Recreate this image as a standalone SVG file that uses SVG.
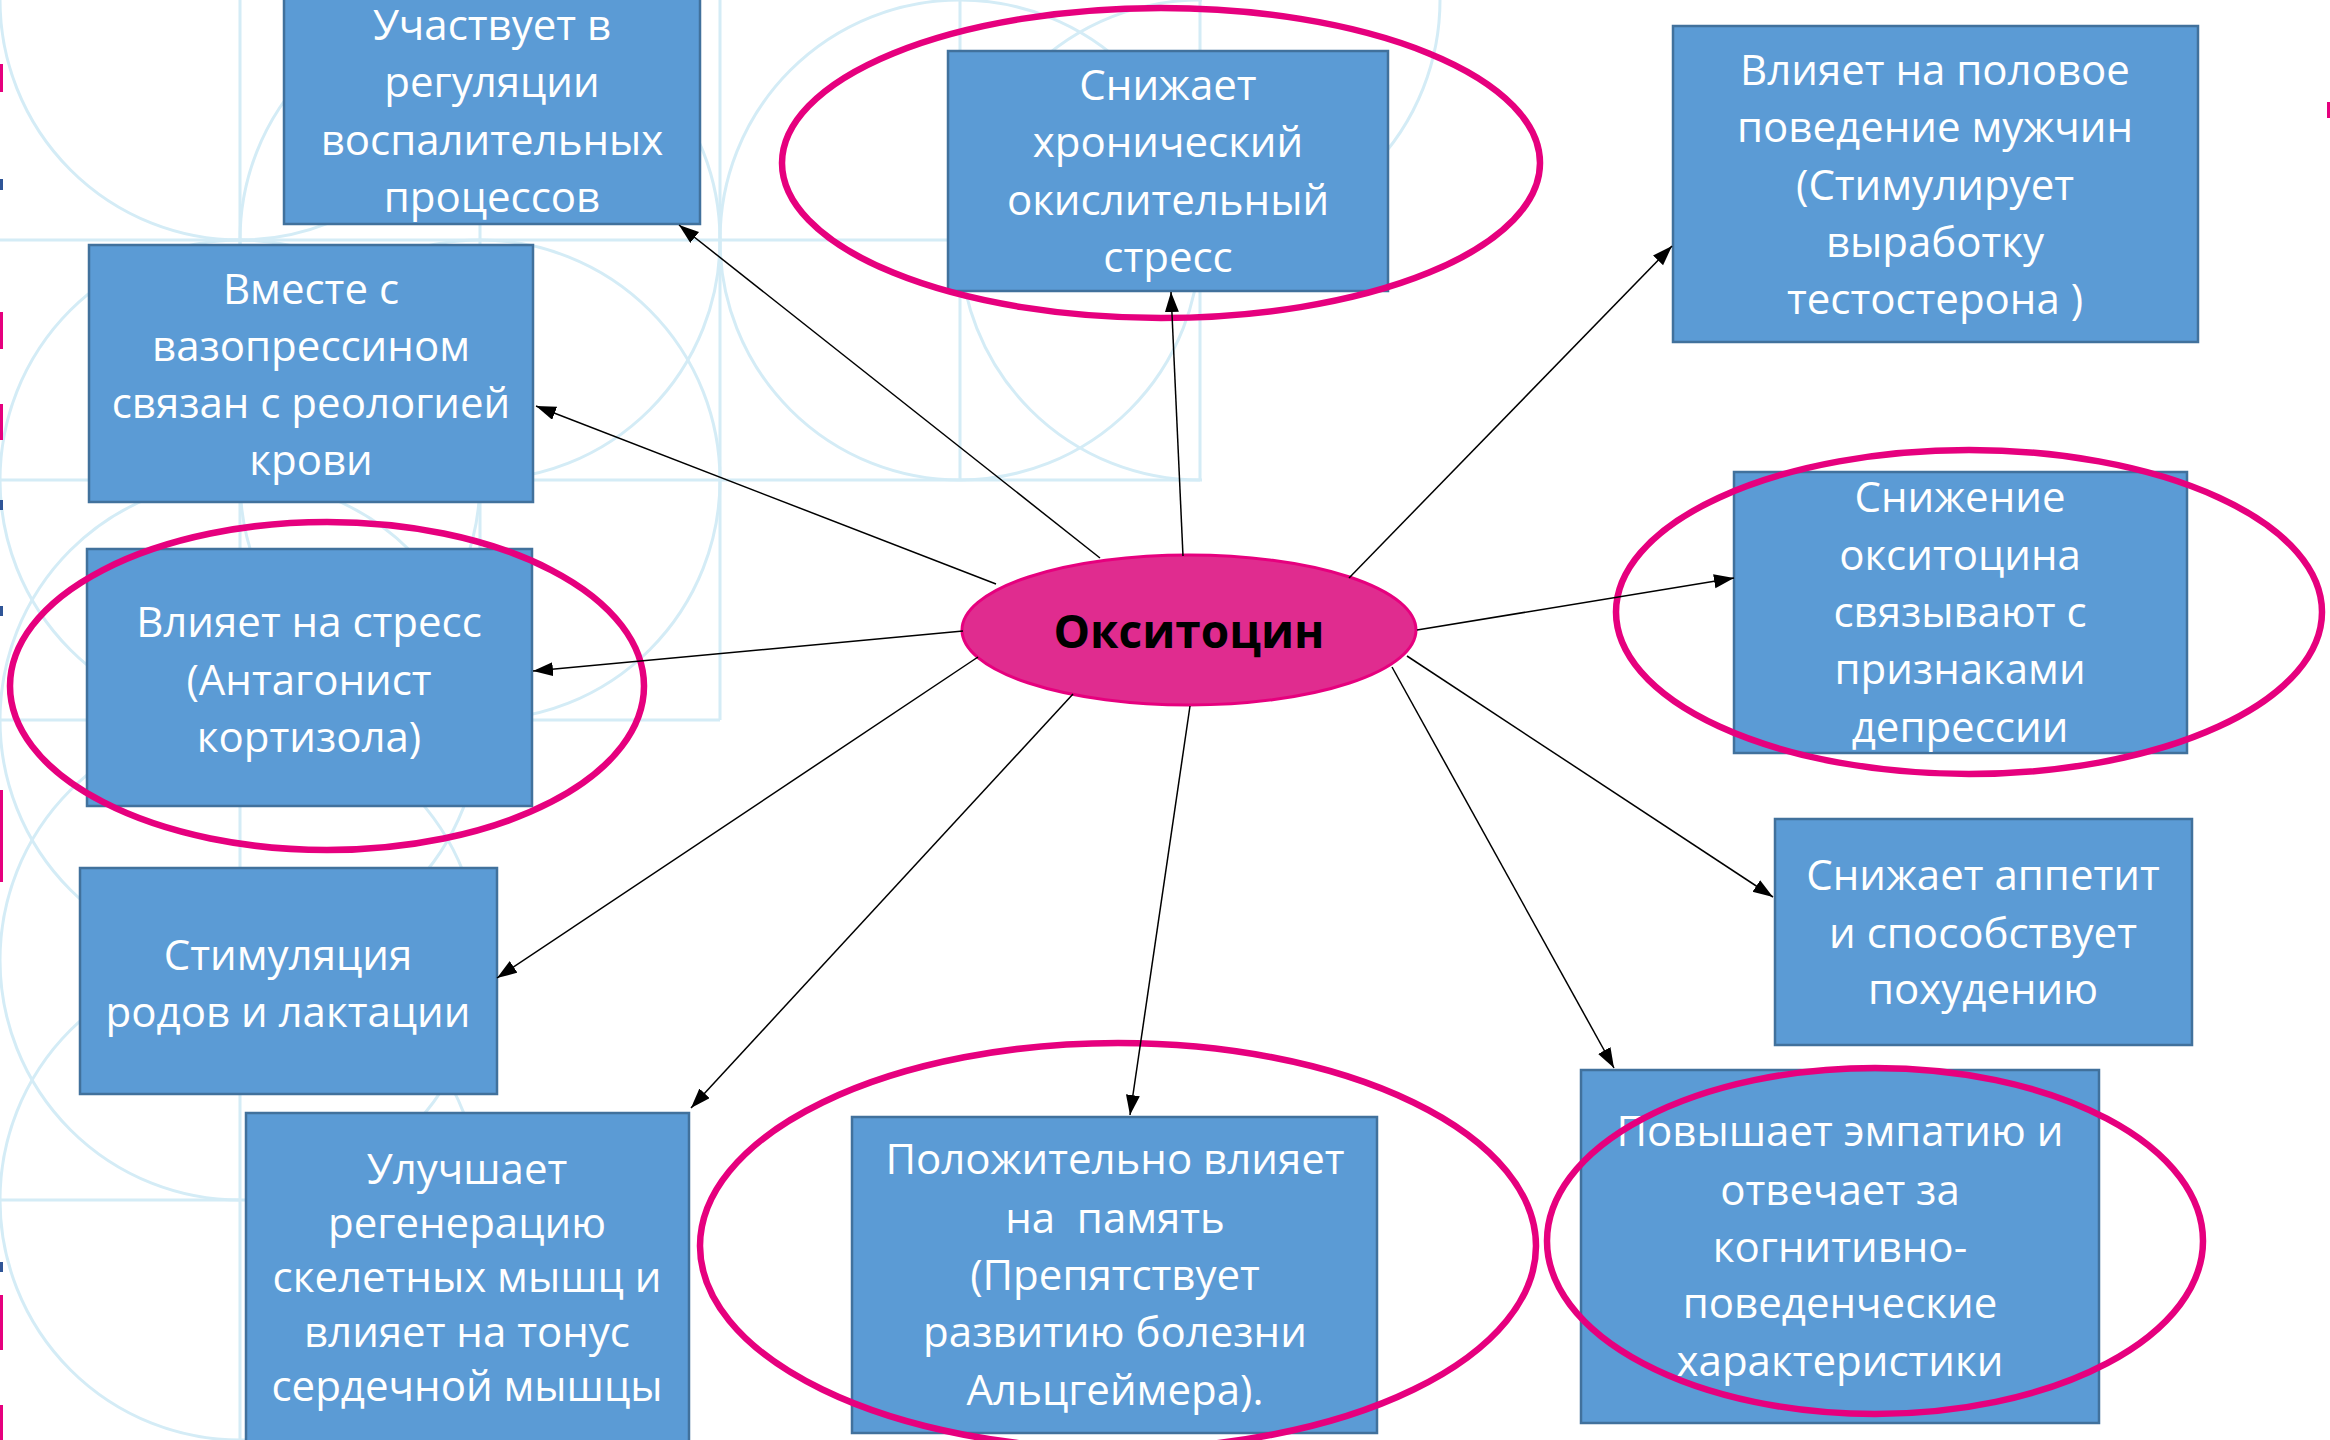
<svg xmlns="http://www.w3.org/2000/svg" width="2330" height="1440" viewBox="0 0 2330 1440">
<style>
.bg{fill:none;stroke:#D4ECF6;stroke-width:3}
.box{fill:#5B9BD5;stroke:#41719C;stroke-width:2.5}
.t{font-family:'Open Sans','Noto Sans',sans-serif;font-size:42px;fill:#FFFFFF;text-anchor:middle}
.hl{fill:none;stroke:#E6007E;stroke-width:6.5}
.c{stroke:#000;stroke-width:1.5;fill:none;marker-end:url(#ah)}
</style>
<defs>
<marker id="ah" markerUnits="userSpaceOnUse" markerWidth="22" markerHeight="16" refX="20" refY="7" orient="auto">
<path d="M0,0 L20,7 L0,14 z" fill="#000"/>
</marker>
<clipPath id="clipL"><rect x="0" y="0" width="1202" height="1440"/></clipPath>
</defs>
<rect width="2330" height="1440" fill="#FFFFFF"/>
<g id="background">
<line class="bg" x1="240" y1="0" x2="240" y2="1440"/>
<line class="bg" x1="480" y1="0" x2="480" y2="720"/>
<line class="bg" x1="720" y1="0" x2="720" y2="720"/>
<line class="bg" x1="960" y1="0" x2="960" y2="480"/>
<line class="bg" x1="1200" y1="0" x2="1200" y2="480"/>
<line class="bg" x1="0" y1="240" x2="1200" y2="240"/>
<line class="bg" x1="0" y1="480" x2="1200" y2="480"/>
<line class="bg" x1="0" y1="720" x2="720" y2="720"/>
<line class="bg" x1="0" y1="1200" x2="240" y2="1200"/>
<circle class="bg" cx="240" cy="0" r="240"/>
<circle class="bg" cx="480" cy="240" r="240"/>
<circle class="bg" cx="240" cy="480" r="240"/>
<circle class="bg" cx="480" cy="480" r="240"/>
<circle class="bg" cx="240" cy="720" r="240"/>
<circle class="bg" cx="240" cy="960" r="240"/>
<circle class="bg" cx="240" cy="1200" r="240"/>
<circle class="bg" cx="960" cy="240" r="240"/>
<circle class="bg" cx="1200" cy="240" r="240" clip-path="url(#clipL)"/>
<path class="bg" d="M1440,0 A240,240 0 0 1 1200,240"/>
<g fill="#E6007E">
<rect x="0" y="64" width="3" height="28"/>
<rect x="0" y="312" width="3" height="37"/>
<rect x="0" y="404" width="3" height="36"/>
<rect x="0" y="790" width="3" height="92"/>
<rect x="0" y="1295" width="3" height="55"/>
<rect x="0" y="1405" width="3" height="35"/>
<rect x="2327" y="102" width="3" height="16"/>
</g>
<g fill="#2F5597">
<rect x="0" y="179" width="3" height="11"/>
<rect x="0" y="500" width="3" height="10"/>
<rect x="0" y="606" width="3" height="10"/>
<rect x="0" y="1262" width="3" height="10"/>
</g>
</g>
<g id="n1">
<rect class="box" x="284" y="-4" width="416" height="228"/>
<text class="t"><tspan x="492" y="40">Участвует в</tspan><tspan x="492" y="97">регуляции</tspan><tspan x="492" y="155">воспалительных</tspan><tspan x="492" y="212">процессов</tspan></text>
</g>
<g id="n2">
<rect class="box" x="948" y="51" width="440" height="240"/>
<text class="t"><tspan x="1168" y="100">Снижает</tspan><tspan x="1168" y="157">хронический</tspan><tspan x="1168" y="215">окислительный</tspan><tspan x="1168" y="272">стресс</tspan></text>
</g>
<g id="n3">
<rect class="box" x="1673" y="26" width="525" height="316"/>
<text class="t"><tspan x="1935" y="85">Влияет на половое</tspan><tspan x="1935" y="142">поведение мужчин</tspan><tspan x="1935" y="200">(Стимулирует</tspan><tspan x="1935" y="257">выработку</tspan><tspan x="1935" y="314">тестостерона )</tspan></text>
</g>
<g id="n4">
<rect class="box" x="89" y="245" width="444" height="257"/>
<text class="t"><tspan x="311" y="304">Вместе с</tspan><tspan x="311" y="361">вазопрессином</tspan><tspan x="311" y="418">связан с реологией</tspan><tspan x="311" y="475">крови</tspan></text>
</g>
<g id="n5">
<rect class="box" x="87" y="549" width="445" height="257"/>
<text class="t"><tspan x="309" y="637">Влияет на стресс</tspan><tspan x="309" y="695">(Антагонист</tspan><tspan x="309" y="752">кортизола)</tspan></text>
</g>
<g id="n6">
<rect class="box" x="80" y="868" width="417" height="226"/>
<text class="t"><tspan x="288" y="970">Стимуляция</tspan><tspan x="288" y="1027">родов и лактации</tspan></text>
</g>
<g id="n7">
<rect class="box" x="246" y="1113" width="443" height="335"/>
<text class="t"><tspan x="467" y="1184">Улучшает</tspan><tspan x="467" y="1238">регенерацию</tspan><tspan x="467" y="1292">скелетных мышц и</tspan><tspan x="467" y="1347">влияет на тонус</tspan><tspan x="467" y="1401">сердечной мышцы</tspan></text>
</g>
<g id="n8">
<rect class="box" x="852" y="1117" width="525" height="316"/>
<text class="t" xml:space="preserve"><tspan x="1115" y="1174">Положительно влияет</tspan><tspan x="1115" y="1233">на  память</tspan><tspan x="1115" y="1290">(Препятствует</tspan><tspan x="1115" y="1347">развитию болезни</tspan><tspan x="1115" y="1405">Альцгеймера).</tspan></text>
</g>
<g id="n9">
<rect class="box" x="1734" y="472" width="453" height="281"/>
<text class="t"><tspan x="1960" y="512">Снижение</tspan><tspan x="1960" y="570">окситоцина</tspan><tspan x="1960" y="627">связывают с</tspan><tspan x="1960" y="684">признаками</tspan><tspan x="1960" y="742">депрессии</tspan></text>
</g>
<g id="n10">
<rect class="box" x="1775" y="819" width="417" height="226"/>
<text class="t"><tspan x="1983" y="890">Снижает аппетит</tspan><tspan x="1983" y="948">и способствует</tspan><tspan x="1983" y="1004">похудению</tspan></text>
</g>
<g id="n11">
<rect class="box" x="1581" y="1070" width="518" height="353"/>
<text class="t"><tspan x="1840" y="1146">Повышает эмпатию и</tspan><tspan x="1840" y="1205">отвечает за</tspan><tspan x="1840" y="1262">когнитивно-</tspan><tspan x="1840" y="1318">поведенческие</tspan><tspan x="1840" y="1376">характеристики</tspan></text>
</g>
<g id="center">
<ellipse cx="1189" cy="630" rx="227" ry="75" fill="#E02C8F" stroke="#E6007E" stroke-width="3"/>
<text x="1189" y="648" font-family="'Open Sans','Noto Sans',sans-serif" font-size="46" font-weight="bold" fill="#000" text-anchor="middle">Окситоцин</text>
</g>
<g id="highlights">
<ellipse class="hl" cx="1161" cy="163" rx="379" ry="155"/>
<ellipse class="hl" cx="327" cy="686" rx="317" ry="164"/>
<ellipse class="hl" cx="1969" cy="612" rx="353" ry="162"/>
<ellipse class="hl" cx="1118" cy="1246" rx="418" ry="203"/>
<ellipse class="hl" cx="1875" cy="1241" rx="328" ry="173"/>
</g>
<g id="connectors">
<line class="c" x1="1100" y1="558" x2="679" y2="225"/>
<line class="c" x1="1183" y1="556" x2="1171" y2="292"/>
<line class="c" x1="1349" y1="578" x2="1672" y2="246"/>
<line class="c" x1="996" y1="584" x2="536" y2="406"/>
<line class="c" x1="963" y1="631" x2="533" y2="671"/>
<line class="c" x1="1417" y1="630" x2="1734" y2="578"/>
<line class="c" x1="978" y1="657" x2="497" y2="978"/>
<line class="c" x1="1073" y1="694" x2="691" y2="1108"/>
<line class="c" x1="1190" y1="706" x2="1130" y2="1115"/>
<line class="c" x1="1392" y1="667" x2="1614" y2="1068"/>
<line class="c" x1="1407" y1="656" x2="1773" y2="897"/>
</g>
</svg>
